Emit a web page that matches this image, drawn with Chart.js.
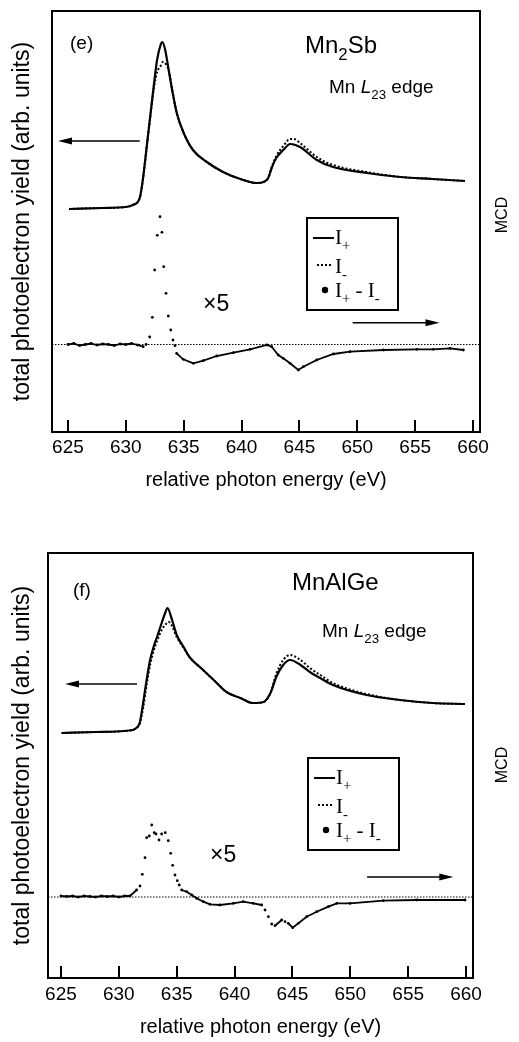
<!DOCTYPE html>
<html><head><meta charset="utf-8">
<script src="https://cdn.jsdelivr.net/npm/chart.js@4/dist/chart.umd.min.js"></script>
<style>
html,body{margin:0;padding:0;background:#fff;width:519px;height:1042px;overflow:hidden}
.w{position:absolute;left:0;width:519px}
#w1{top:0;height:520px}
#w2{top:520px;height:522px}
</style></head><body>
<div class="w" id="w1"><canvas id="c1"></canvas></div>
<div class="w" id="w2"><canvas id="c2"></canvas></div>
<script>
// ---------- tick labels ----------
const xTickValues = [625, 630, 635, 640, 645, 650, 655, 660];

// ---------- panel (e) Mn2Sb ----------
const eIplusX = [625.1,628.0,630.0,630.6,631.2,631.5,631.8,632.1,632.4,632.7,633.0,633.15,633.4,633.7,634.0,634.4,635.0,635.8,637.0,638.4,639.9,641.3,641.9,642.3,642.6,643.0,643.6,644.2,645.05,646.5,647.9,650.8,653.7,656.5,659.3];
const eIplusY = [2.23,2.24,2.25,2.27,2.34,2.55,2.85,3.15,3.45,3.72,3.87,3.90,3.82,3.62,3.42,3.19,2.99,2.82,2.70,2.60,2.53,2.49,2.50,2.54,2.64,2.74,2.82,2.88,2.85,2.72,2.65,2.59,2.55,2.53,2.51];
const eIminusX = [625.1,628.0,630.0,630.6,631.2,631.5,631.8,632.1,632.4,632.7,633.0,633.2,633.45,633.7,634.0,634.4,635.0,635.8,637.0,638.4,639.9,641.3,641.9,642.3,642.6,643.0,643.6,644.2,644.5,645.05,646.5,647.9,650.8,653.7,656.5,659.3];
const eIminusY = [2.23,2.24,2.25,2.27,2.34,2.55,2.85,3.14,3.42,3.60,3.66,3.70,3.68,3.62,3.43,3.19,2.99,2.82,2.70,2.60,2.53,2.49,2.50,2.54,2.65,2.76,2.86,2.93,2.93,2.89,2.75,2.67,2.60,2.55,2.53,2.51];
const eMcdX = [625.0,625.5,626.0,626.5,627.0,627.5,628.0,628.5,629.0,629.5,630.0,630.5,631.0,631.5,631.75,632.06,632.29,632.49,632.72,632.95,633.12,633.27,633.47,633.67,633.88,634.07,634.25,634.39,634.96,635.83,636.69,637.85,639.29,640.73,642.17,642.6,643.17,643.6,644.19,644.9,645.34,646.49,647.93,649.37,652.25,655.14,656.57,658.01,659.16];
const eMcdY = [0.00,0.01,-0.01,0.00,0.01,-0.005,0.005,0.00,-0.01,0.005,0.00,0.01,-0.005,-0.022,0.0,0.075,0.272,0.745,1.092,1.278,1.122,0.778,0.512,0.285,0.145,0.045,-0.012,-0.088,-0.148,-0.188,-0.162,-0.115,-0.082,-0.048,-0.005,-0.022,-0.105,-0.138,-0.188,-0.255,-0.222,-0.155,-0.095,-0.072,-0.055,-0.048,-0.048,-0.038,-0.055];

// ---------- panel (f) MnAlGe ----------
const fIplusX = [625.06,628.0,631.2,631.5,631.8,632.1,632.4,632.7,633.0,633.3,633.7,634.0,634.2,634.6,635.0,635.6,636.1,637.0,638.2,639.3,640.5,641.6,642.5,643.1,643.6,644.2,644.8,645.7,646.5,647.4,648.5,651.4,654.3,657.1,659.9];
const fIplusY = [2.45,2.46,2.48,2.50,2.55,2.75,2.98,3.18,3.31,3.41,3.55,3.65,3.70,3.58,3.43,3.31,3.21,3.11,2.98,2.86,2.80,2.75,2.76,2.85,3.01,3.13,3.18,3.13,3.06,3.00,2.93,2.83,2.78,2.75,2.74];
const fIminusX = [625.06,628.0,631.2,631.5,631.8,632.1,632.4,632.7,633.0,633.3,633.7,634.0,634.3,634.6,635.0,635.6,636.1,637.0,638.2,639.3,640.5,641.6,642.5,643.1,643.6,644.2,644.8,645.7,646.5,647.4,648.5,651.4,654.3,657.1,659.9];
const fIminusY = [2.45,2.46,2.48,2.50,2.54,2.70,2.93,3.13,3.27,3.37,3.48,3.53,3.56,3.52,3.41,3.30,3.21,3.11,2.98,2.86,2.80,2.75,2.76,2.85,3.04,3.18,3.23,3.18,3.10,3.03,2.95,2.84,2.78,2.75,2.74];
const fMcdX = [625.0,625.5,626.0,626.5,627.0,627.5,628.0,628.5,629.0,629.5,630.0,630.5,630.96,631.54,631.83,632.03,632.26,632.41,632.63,632.84,633.06,633.21,633.47,633.70,634.01,634.27,634.48,634.65,634.85,635.05,635.22,635.43,635.86,636.30,636.73,637.30,637.88,638.74,639.89,640.75,641.62,642.35,642.63,642.92,643.21,643.49,644.07,644.36,644.64,645.02,645.51,646.23,647.10,648.10,648.83,649.98,652.85,655.74,659.91];
const fMcdY = [0.01,0.005,0.01,0.0,0.01,0.005,0.0,0.01,0.005,0.01,0.0,0.01,0.01,0.07,0.11,0.227,0.393,0.593,0.61,0.72,0.643,0.63,0.57,0.63,0.643,0.563,0.437,0.317,0.22,0.163,0.12,0.07,0.053,0.02,-0.013,-0.047,-0.073,-0.08,-0.063,-0.047,-0.063,-0.08,-0.13,-0.197,-0.27,-0.287,-0.23,-0.247,-0.263,-0.307,-0.263,-0.197,-0.147,-0.097,-0.063,-0.063,-0.037,-0.03,-0.03];

// ---------- helpers ----------
const SANS = "'Liberation Sans', Arial, Helvetica, sans-serif";
const SERIF = "'Liberation Serif', 'Times New Roman', Times, serif";
Chart.defaults.font.family = SANS;
Chart.defaults.color = '#000';

const pts = (xs, ys) => xs.map((x, i) => ({x, y: ys[i]}));

function richText(ctx, parts, x, y, size, fam) {
  let cx = x;
  for (const p of parts) {
    const sub = !!p.sub;
    const fs = sub ? size * 0.7 : size;
    ctx.font = (p.it ? 'italic ' : '') + fs + 'px ' + fam;
    ctx.fillText(p.t, cx, y + (sub ? size * 0.3 : 0));
    cx += ctx.measureText(p.t).width;
  }
  return cx;
}

function arrow(ctx, x0, x1, y) {
  const dir = Math.sign(x1 - x0);
  ctx.beginPath();
  ctx.lineWidth = 1.4;
  ctx.moveTo(x0, y);
  ctx.lineTo(x1 - dir * 10, y);
  ctx.stroke();
  ctx.beginPath();
  ctx.moveTo(x1, y);
  ctx.lineTo(x1 - dir * 14, y - 3.5);
  ctx.lineTo(x1 - dir * 14, y + 3.5);
  ctx.closePath();
  ctx.fill();
}

const annotPlugin = {
  id: 'annot',
  afterDraw(chart) {
    const a = chart.options.plugins.annot;
    if (!a) return;
    const ctx = chart.ctx, ca = chart.chartArea;
    const sx = chart.scales.x, sy = chart.scales.y, sy2 = chart.scales.y2;
    ctx.save();
    ctx.fillStyle = '#000'; ctx.strokeStyle = '#000';
    ctx.textBaseline = 'alphabetic'; ctx.textAlign = 'left';
    for (const t of a.texts) {
      richText(ctx, t.parts, ca.left + t.dx, ca.top + t.dy, t.size, SANS);
    }
    // MCD label (reads bottom to top)
    ctx.save();
    ctx.translate(ca.right + a.mcd.dx, ca.top + a.mcd.dy);
    ctx.rotate(-Math.PI / 2);
    ctx.textAlign = 'center'; ctx.textBaseline = 'middle';
    ctx.font = '16px ' + SANS;
    ctx.fillText('MCD', 0, 0);
    ctx.restore();
    // arrows
    for (const ar of a.arrows) {
      const scaleY = ar.axis === 'y2' ? sy2 : sy;
      arrow(ctx, sx.getPixelForValue(ar.from), sx.getPixelForValue(ar.to), scaleY.getPixelForValue(ar.y));
    }
    // legend box
    const L = a.legend;
    const bx = ca.left + L.dx, by = ca.top + L.dy;
    ctx.lineWidth = 2;
    ctx.strokeRect(bx, by, 91, 92);
    ctx.lineWidth = 2;
    ctx.setLineDash([]);
    ctx.beginPath(); ctx.moveTo(bx + 6, by + 20); ctx.lineTo(bx + 27, by + 20); ctx.stroke();
    richText(ctx, [{t: 'I'}, {t: '+', sub: true}], bx + 28, by + 26, 21, SERIF);
    ctx.lineWidth = 1.8;
    ctx.setLineDash([2, 2]);
    ctx.beginPath(); ctx.moveTo(bx + 10, by + 47); ctx.lineTo(bx + 26, by + 47); ctx.stroke();
    ctx.setLineDash([]);
    richText(ctx, [{t: 'I'}, {t: '-', sub: true}], bx + 28, by + 55, 21, SERIF);
    ctx.beginPath(); ctx.arc(bx + 18, by + 72, 3.2, 0, Math.PI * 2); ctx.fill();
    richText(ctx, [{t: 'I'}, {t: '+', sub: true}, {t: ' - '}, {t: 'I'}, {t: '-', sub: true}], bx + 28, by + 79, 21, SERIF);
    ctx.restore();
  }
};

function makeChart(id, p) {
  const ds = [
    {label: 'I+', data: pts(p.ipx, p.ipy), yAxisID: 'y', borderColor: '#000', borderWidth: 2.2,
     pointRadius: 0, cubicInterpolationMode: 'monotone', order: 1},
    {label: 'I-', data: pts(p.imx, p.imy), yAxisID: 'y', borderColor: '#000', borderWidth: 2,
     borderDash: [2, 2], pointRadius: 0, cubicInterpolationMode: 'monotone', order: 2},
    {label: 'zero', data: [{x: p.xmin, y: 0}, {x: p.xmax, y: 0}], yAxisID: 'y2', borderColor: '#000',
     borderWidth: 1, borderDash: [1.5, 1.5], pointRadius: 0, order: 4},
    {label: 'I+ - I-', data: pts(p.mx, p.my), yAxisID: 'y2', borderColor: '#000', borderWidth: 1.8,
     pointRadius: 1.4, pointBorderWidth: 0, pointBackgroundColor: '#000', order: 3,
     segment: {borderColor: c => {
       const dx = Math.abs(c.p1.x - c.p0.x), dy = Math.abs(c.p1.y - c.p0.y);
       return (dx >= 4 && dy / dx <= 1.5) ? '#000' : 'rgba(0,0,0,0)';
     }}}
  ];
  const noTickAxis = (pos, min, max) => ({
    type: 'linear', position: pos, min, max,
    ticks: {display: false}, grid: {drawOnChartArea: false, drawTicks: false},
    border: {display: true, width: 2, color: '#000'}
  });
  const yAxis = noTickAxis('left', p.ymin, p.ymax);
  yAxis.title = {display: true, text: 'total photoelectron yield (arb. units)', color: '#000',
    font: {size: 23, family: SANS}, padding: {top: 9.2, bottom: 0}};
  yAxis.afterFit = s => { s.width = p.leftW; };
  return new Chart(document.getElementById(id), {
    type: 'line',
    data: {datasets: ds},
    options: {
      responsive: true, maintainAspectRatio: false, animation: false, devicePixelRatio: 1,
      layout: {padding: {left: 0, top: p.padTop, right: p.padRight, bottom: 0}},
      plugins: {legend: {display: false}, tooltip: {enabled: false}, annot: p.annot},
      scales: {
        x: {
          type: 'linear', position: 'bottom', min: p.xmin, max: p.xmax,
          afterBuildTicks: ax => { ax.ticks = xTickValues.map(v => ({value: v})); },
          afterFit: s => { s.height = p.xAxisH; },
          ticks: {font: {size: 19, family: SANS}, color: '#000', padding: p.tickPad, maxRotation: 0,
                  callback: v => String(v)},
          grid: {drawOnChartArea: false, drawTicks: true, tickLength: -12, lineWidth: 2, color: '#000'},
          border: {display: true, width: 2, color: '#000'},
          title: {display: true, text: 'relative photon energy (eV)', color: '#000',
                  font: {size: 20, family: SANS}, padding: {top: 0, bottom: p.xtitlePadB}}
        },
        xTop: noTickAxis('top', p.xmin, p.xmax),
        y: yAxis,
        y2: noTickAxis('right', p.y2min, p.y2max)
      }
    },
    plugins: [annotPlugin]
  });
}

makeChart('c1', {
  ipx: eIplusX, ipy: eIplusY, imx: eIminusX, imy: eIminusY, mx: eMcdX, my: eMcdY,
  xmin: 623.62, xmax: 660.6, ymin: 0, ymax: 4.21, y2min: -0.875, y2max: 3.335,
  padTop: 11, padRight: 39, leftW: 52, xAxisH: 88, tickPad: 16.6, xtitlePadB: 28,
  annot: {
    texts: [
      {parts: [{t: '(e)'}], dx: 18, dy: 38, size: 19},
      {parts: [{t: 'Mn'}, {t: '2', sub: true}, {t: 'Sb'}], dx: 253, dy: 42, size: 24},
      {parts: [{t: 'Mn '}, {t: 'L', it: true}, {t: '23', sub: true}, {t: ' edge'}], dx: 277, dy: 82, size: 19},
      {parts: [{t: '\u00d75'}], dx: 151, dy: 300, size: 23}
    ],
    mcd: {dx: 23, dy: 204},
    arrows: [{from: 631.2, to: 624.14, y: 2.91, axis: 'y'}, {from: 649.6, to: 657.1, y: 0.218, axis: 'y2'}],
    legend: {dx: 255, dy: 207}
  }
});

makeChart('c2', {
  ipx: fIplusX, ipy: fIplusY, imx: fIminusX, imy: fIminusY, mx: fMcdX, my: fMcdY,
  xmin: 623.88, xmax: 660.6, ymin: 0, ymax: 4.25, y2min: -0.81, y2max: 3.44,
  padTop: 33, padRight: 46, leftW: 48, xAxisH: 64, tickPad: 17.6, xtitlePadB: 3,
  annot: {
    texts: [
      {parts: [{t: '(f)'}], dx: 25, dy: 43, size: 19},
      {parts: [{t: 'MnAlGe'}], dx: 244, dy: 37, size: 24},
      {parts: [{t: 'Mn '}, {t: 'L', it: true}, {t: '23', sub: true}, {t: ' edge'}], dx: 274, dy: 84, size: 19},
      {parts: [{t: '\u00d75'}], dx: 162, dy: 309, size: 23}
    ],
    mcd: {dx: 30, dy: 212},
    arrows: [{from: 631.57, to: 625.35, y: 2.94, axis: 'y'}, {from: 651.45, to: 658.9, y: 0.20, axis: 'y2'}],
    legend: {dx: 260, dy: 205}
  }
});
</script>
</body></html>
